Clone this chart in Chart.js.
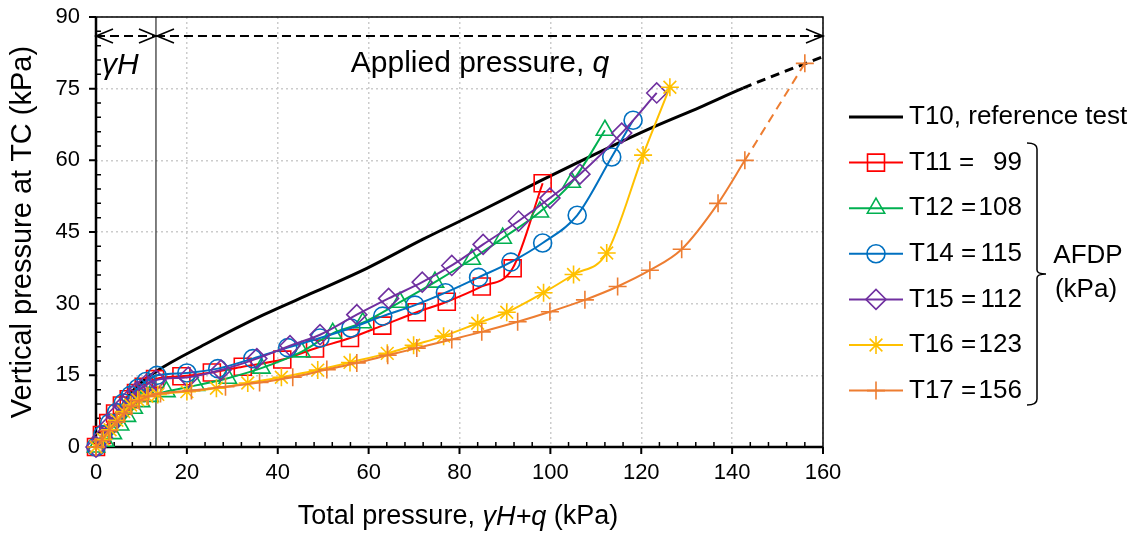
<!DOCTYPE html>
<html>
<head>
<meta charset="utf-8">
<script src="https://cdn.jsdelivr.net/npm/chart.js@4.4.1/dist/chart.umd.min.js"></script>
<style>
  html, body { margin: 0; padding: 0; background: #fff; }
  canvas { display: block; }
</style>
</head>
<body>
<canvas id="pressureChart" width="1137" height="533"></canvas>
<script>
const FONT = "'Liberation Sans', Arial, sans-serif";

// axis ticks (kPa)
const xTicks = [0, 20, 40, 60, 80, 100, 120, 140, 160];
const yTicks = [0, 15, 30, 45, 60, 75, 90];

// overburden pressure gamma*H and the level of the dimension arrows
const gammaH = 13.2;
const arrowLevel = 86;

// [total pressure, vertical pressure at TC] in kPa
const t10 = [[0, 0], [3, 4.5], [7.7, 11.3], [10, 13.5], [13.2, 15.8], [24, 21.5], [36.7, 27.6], [48, 32.4],
  [59.6, 37.4], [72, 43.5], [85.1, 49.6], [98, 55.8], [111.6, 62.1], [122.5, 66.9], [132.9, 71.1],
  [142.4, 75.1], [159.7, 81.6]];
const t11 = [[0, 0], [1.3, 2.5], [2.7, 5], [4.2, 7], [5.7, 8.7], [7.2, 10], [8.8, 11.3], [10.5, 12.6],
  [13, 14.2], [18.8, 14.8], [25.5, 15.6], [32.3, 16.8], [41, 18.3], [48.2, 20.6], [55.9, 22.8],
  [63, 25.4], [70.6, 28.2], [77.2, 30.4], [84.9, 33.6], [91.7, 37.4], [98.3, 55.2]];
const t12 = [[0, 0], [2, 1.2], [3.7, 2.8], [5.3, 4.6], [6.8, 6.4], [8.3, 8.1], [9.9, 9.5], [11.8, 10.6],
  [15.5, 11.6], [22, 12.9], [29, 14.4], [36.4, 16.5], [45.2, 19.9], [52.1, 23.8], [58.7, 26],
  [66.9, 30.3], [74.6, 34.5], [82.7, 39.3], [89.5, 43.7], [97.7, 49.2], [104.7, 55.4], [112, 66.3]];
const t14 = [[0, 0], [1.5, 2.6], [3, 5], [4.5, 7.2], [6, 9.2], [7.6, 10.8], [9.2, 12.3], [11, 13.7],
  [13.4, 15], [20, 15.5], [26.8, 16.4], [34.5, 18.5], [42.2, 20.8], [49.3, 22.8], [56.1, 24.9],
  [63.1, 27.4], [70.2, 29.7], [76.9, 32.3], [84.2, 35.5], [91.3, 38.7], [98.3, 42.7], [105.9, 48.5],
  [113.5, 60.7], [118.2, 68.4]];
const t15 = [[0, 0], [1.4, 2], [2.9, 4.4], [4.4, 6.6], [6, 8.6], [7.5, 10.2], [9.1, 11.7], [11, 13],
  [13.2, 14], [20.3, 14.6], [27.5, 16.1], [35.4, 18.5], [42.7, 21.2], [49.3, 23.5], [57.4, 27.7],
  [64.4, 31.1], [71.8, 34.5], [78.3, 38], [85.2, 42.4], [93, 47.3], [99.9, 52.1], [106.5, 57.1],
  [115.7, 65.7], [123.4, 74.1]];
const t16 = [[0, 0], [1.6, 1.6], [3.1, 3.6], [4.6, 5.6], [6.1, 7.4], [7.6, 8.8], [9.2, 9.9], [11.2, 10.6],
  [13.6, 11], [20, 11.6], [26.5, 12.3], [33.4, 13.4], [40.8, 14.6], [48.8, 16.1], [55.9, 17.7],
  [64.1, 19.6], [69.9, 21.3], [76.5, 23.2], [84, 25.9], [90.4, 28.2], [98.5, 32.3], [105.1, 36.1],
  [112.4, 40.6], [120.4, 61.1], [126.3, 75.3]];
const t17 = [[0, 0], [1.2, 1.3], [2.8, 3.4], [4.5, 5.2], [6.2, 7], [7.8, 8.5], [9.5, 9.7], [11.5, 10.6],
  [14.2, 11.2], [21, 11.8], [28.5, 12.6], [36, 13.5], [43.3, 14.6], [50.8, 16.2], [57.4, 17.6],
  [64.2, 19.2], [70.6, 20.7], [78.3, 22.5], [84.9, 24.1], [92.8, 26.2], [99.9, 28.3], [107.6, 30.8],
  [114.8, 33.6], [121.9, 37], [128.9, 41.4], [136.9, 51], [142.8, 60], [156, 80.3]];

const seriesNames = ['T10, reference test', 'T11 =', 'T12 =', 'T14 =', 'T15 =', 'T16 =', 'T17 ='];
const afdpValues = [null, 99, 108, 115, 112, 123, 156];

const seriesData = [t10, t11, t12, t14, t15, t16, t17];
const seriesColors = ['#000000', '#FF0000', '#00B050', '#0070C0', '#7030A0', '#FFC000', '#ED7D31'];
const seriesMarkers = [false, 'rect', 'triangle', 'circle', 'rectRot', 'star', 'cross'];
const markerRadius = [0, 12, 10, 9, 10, 9, 9];
// the last segment of T10 and T17 is extrapolated and drawn dashed
const dashedTail = [true, false, false, false, false, false, true];

const datasets = seriesData.map((pts, i) => {
  const lastSeg = pts.length - 2;
  return {
    label: seriesNames[i],
    data: pts.map(([x, y]) => ({ x, y })),
    borderColor: seriesColors[i],
    backgroundColor: 'rgba(0,0,0,0)',
    borderWidth: i === 0 ? 3 : 2,
    pointStyle: seriesMarkers[i],
    pointRadius: markerRadius[i],
    pointHoverRadius: markerRadius[i],
    pointBorderWidth: 1.6,
    pointBorderColor: seriesColors[i],
    pointBackgroundColor: 'rgba(0,0,0,0)',
    cubicInterpolationMode: 'monotone',
    clip: false,
    order: seriesData.length - i,
    segment: {
      borderDash: ctx => (dashedTail[i] && ctx.p0DataIndex === lastSeg ? [9, 6] : undefined)
    }
  };
});

function richText(ctx, parts, x, y, size) {
  // parts: [text, italic]; drawn centred on x
  let total = 0;
  parts.forEach(([t, it]) => {
    ctx.font = (it ? 'italic ' : '') + size + 'px ' + FONT;
    total += ctx.measureText(t).width;
  });
  let cx = x - total / 2;
  ctx.textAlign = 'left';
  ctx.textBaseline = 'middle';
  parts.forEach(([t, it]) => {
    ctx.font = (it ? 'italic ' : '') + size + 'px ' + FONT;
    ctx.fillText(t, cx, y);
    cx += ctx.measureText(t).width;
  });
}

function chevron(ctx, x, y, dir) {
  ctx.beginPath();
  ctx.moveTo(x - dir * 17, y - 7);
  ctx.lineTo(x, y);
  ctx.lineTo(x - dir * 17, y + 7);
  ctx.stroke();
}

const framePlugin = {
  id: 'frame',
  beforeDatasetsDraw(chart) {
    const { ctx, chartArea: a, scales: { x, y } } = chart;
    ctx.save();
    ctx.strokeStyle = '#000';
    ctx.setLineDash([]);

    // top and right border
    ctx.lineWidth = 1.5;
    ctx.beginPath();
    ctx.moveTo(a.left, a.top);
    ctx.lineTo(a.right, a.top);
    ctx.lineTo(a.right, a.bottom);
    ctx.stroke();

    // axes
    ctx.lineWidth = 2.5;
    ctx.beginPath();
    ctx.moveTo(a.left, a.top);
    ctx.lineTo(a.left, a.bottom);
    ctx.lineTo(a.right, a.bottom);
    ctx.stroke();

    // minor ticks point inward, major ticks outward
    ctx.lineWidth = 1.5;
    ctx.beginPath();
    for (let v = 4; v < 160; v += 4) {
      if (v % 20 === 0) continue;
      const px = x.getPixelForValue(v);
      ctx.moveTo(px, a.bottom);
      ctx.lineTo(px, a.bottom - 5);
    }
    for (let v = 3; v < 90; v += 3) {
      if (v % 15 === 0) continue;
      const py = y.getPixelForValue(v);
      ctx.moveTo(a.left, py);
      ctx.lineTo(a.left + 5, py);
    }
    ctx.stroke();
    ctx.lineWidth = 2;
    ctx.beginPath();
    xTicks.forEach(v => {
      const px = x.getPixelForValue(v);
      ctx.moveTo(px, a.bottom);
      ctx.lineTo(px, a.bottom + 7);
    });
    yTicks.forEach(v => {
      const py = y.getPixelForValue(v);
      ctx.moveTo(a.left - 7, py);
      ctx.lineTo(a.left, py);
    });
    ctx.stroke();

    // gamma*H boundary
    const gx = x.getPixelForValue(gammaH);
    ctx.lineWidth = 1;
    ctx.beginPath();
    ctx.moveTo(gx, a.top);
    ctx.lineTo(gx, a.bottom);
    ctx.stroke();

    // dimension arrows
    const ay = y.getPixelForValue(arrowLevel);
    ctx.lineWidth = 2;
    ctx.setLineDash([9, 5]);
    ctx.beginPath();
    ctx.moveTo(a.left, ay);
    ctx.lineTo(gx, ay);
    ctx.moveTo(gx, ay);
    ctx.lineTo(a.right, ay);
    ctx.stroke();
    ctx.setLineDash([]);
    ctx.lineWidth = 1.6;
    chevron(ctx, a.left, ay, -1);
    chevron(ctx, gx, ay, 1);
    chevron(ctx, gx + 1, ay, -1);
    chevron(ctx, a.right, ay, 1);

    ctx.fillStyle = '#000';
    ctx.font = 'italic 30px ' + FONT;
    ctx.textAlign = 'left';
    ctx.textBaseline = 'middle';
    ctx.fillText('\u03B3H', a.left + 6, 66);
    richText(ctx, [['Applied pressure, ', false], ['q', true]], 480, 64, 30);
    ctx.restore();
  },
  afterDraw(chart) {
    const { ctx } = chart;
    ctx.save();
    ctx.fillStyle = '#000';

    // axis titles
    richText(ctx, [['Total pressure, ', false], ['\u03B3H+q', true], [' (kPa)', false]], 458, 517, 27);
    ctx.translate(23, 232);
    ctx.rotate(-Math.PI / 2);
    richText(ctx, [['Vertical pressure at TC (kPa)', false]], 0, 0, 29);
    ctx.restore();

    // legend
    ctx.save();
    const lx0 = 849, lx1 = 903, tx = 909, vx = 1022;
    datasets.forEach((ds, i) => {
      const ly = 117 + i * 45.6;
      ctx.strokeStyle = ds.borderColor;
      ctx.lineWidth = ds.borderWidth;
      ctx.setLineDash([]);
      ctx.beginPath();
      ctx.moveTo(lx0, ly);
      ctx.lineTo(lx1, ly);
      ctx.stroke();
      if (ds.pointStyle && Chart.helpers && Chart.helpers.drawPoint) {
        ctx.lineWidth = ds.pointBorderWidth;
        ctx.fillStyle = 'rgba(0,0,0,0)';
        Chart.helpers.drawPoint(ctx, {
          pointStyle: ds.pointStyle, radius: ds.pointRadius, borderWidth: ds.pointBorderWidth, rotation: 0
        }, (lx0 + lx1) / 2, ly);
      }
      ctx.fillStyle = '#000';
      ctx.font = '26px ' + FONT;
      ctx.textBaseline = 'middle';
      ctx.textAlign = 'left';
      ctx.fillText(ds.label, tx, ly);
      if (afdpValues[i] !== null) {
        ctx.textAlign = 'right';
        ctx.fillText(String(afdpValues[i]), vx, ly);
      }
    });

    // brace grouping the AFDP values
    ctx.strokeStyle = '#000';
    ctx.lineWidth = 1.5;
    const bx = 1037, bTop = 143, bBot = 405, bMid = 274;
    ctx.beginPath();
    ctx.moveTo(1027, bTop);
    ctx.quadraticCurveTo(bx, bTop, bx, bTop + 6);
    ctx.lineTo(bx, bMid - 4);
    ctx.quadraticCurveTo(bx, bMid, bx + 9, bMid);
    ctx.quadraticCurveTo(bx, bMid, bx, bMid + 4);
    ctx.lineTo(bx, bBot - 6);
    ctx.quadraticCurveTo(bx, bBot, 1027, bBot);
    ctx.stroke();

    ctx.font = '26px ' + FONT;
    ctx.textAlign = 'center';
    ctx.textBaseline = 'middle';
    ctx.fillText('AFDP', 1088, 256);
    ctx.fillText('(kPa)', 1086, 290);
    ctx.restore();
  }
};

new Chart(document.getElementById('pressureChart'), {
  type: 'line',
  data: { datasets },
  options: {
    responsive: false,
    animation: false,
    events: [],
    layout: { padding: { top: 17, right: 314, left: 0, bottom: 0 } },
    plugins: { legend: { display: false }, tooltip: { enabled: false } },
    scales: {
      x: {
        type: 'linear',
        min: 0,
        max: 160,
        afterFit: s => { s.height = 86; s.paddingLeft = 0; s.paddingRight = 0; },
        afterBuildTicks: s => { s.ticks = xTicks.map(v => ({ value: v })); },
        ticks: { color: '#000', font: { family: FONT, size: 22 }, padding: 13, maxRotation: 0 },
        grid: { color: '#cccccc', lineWidth: 1.5, drawTicks: false },
        border: { display: false, dash: [2, 3] }
      },
      y: {
        type: 'linear',
        min: 0,
        max: 90,
        afterFit: s => { s.width = 96; s.paddingTop = 0; s.paddingBottom = 0; },
        afterBuildTicks: s => { s.ticks = yTicks.map(v => ({ value: v })); },
        ticks: { color: '#000', font: { family: FONT, size: 22 }, padding: 16 },
        grid: { color: '#cccccc', lineWidth: 1.5, drawTicks: false },
        border: { display: false, dash: [2, 3] }
      }
    }
  },
  plugins: [framePlugin]
});
</script>
</body>
</html>
